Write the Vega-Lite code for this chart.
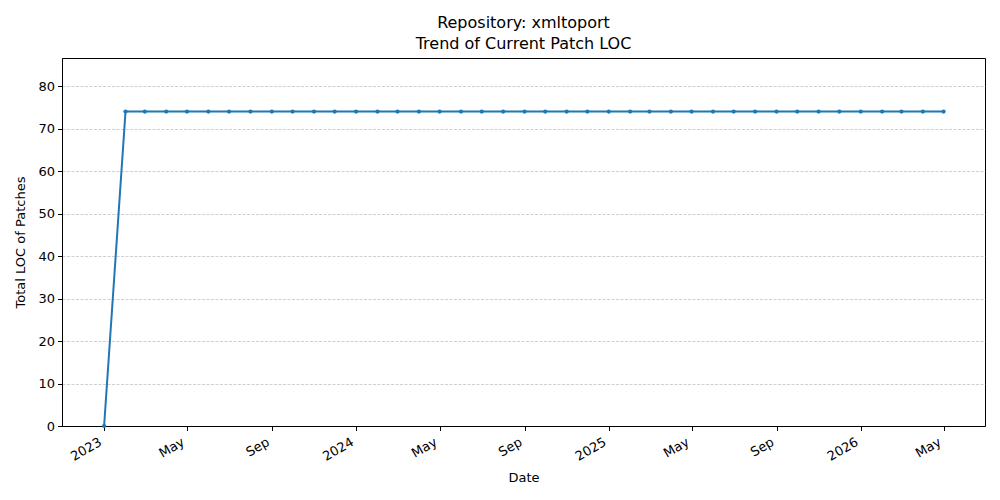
{
  "$schema": "https://vega.github.io/schema/vega-lite/v6.json",
  "width": 923,
  "height": 368,
  "autosize": {"type": "none"},
  "padding": {"left": 62, "top": 58, "right": 15, "bottom": 74},
  "background": "white",
  "title": {
    "text": ["Repository: xmltoport", "Trend of Current Patch LOC"],
    "fontSize": 16,
    "font": "DejaVu Sans",
    "fontWeight": "normal",
    "color": "black",
    "lineHeight": 21,
    "anchor": "middle",
    "offset": 6
  },
  "config": {
    "view": {"stroke": "black", "strokeWidth": 1},
    "axis": {
      "labelFont": "DejaVu Sans",
      "titleFont": "DejaVu Sans",
      "labelFontSize": 13,
      "titleFontSize": 13,
      "titleFontWeight": "normal",
      "labelColor": "black",
      "titleColor": "black",
      "domainColor": "black",
      "tickColor": "black",
      "tickSize": 4.5,
      "labelPadding": 3
    }
  },
  "data": {
    "values": [
      {"date": "2023-01-01", "loc": 0},
      {"date": "2023-02-01", "loc": 74},
      {"date": "2023-03-01", "loc": 74},
      {"date": "2023-04-01", "loc": 74},
      {"date": "2023-05-01", "loc": 74},
      {"date": "2023-06-01", "loc": 74},
      {"date": "2023-07-01", "loc": 74},
      {"date": "2023-08-01", "loc": 74},
      {"date": "2023-09-01", "loc": 74},
      {"date": "2023-10-01", "loc": 74},
      {"date": "2023-11-01", "loc": 74},
      {"date": "2023-12-01", "loc": 74},
      {"date": "2024-01-01", "loc": 74},
      {"date": "2024-02-01", "loc": 74},
      {"date": "2024-03-01", "loc": 74},
      {"date": "2024-04-01", "loc": 74},
      {"date": "2024-05-01", "loc": 74},
      {"date": "2024-06-01", "loc": 74},
      {"date": "2024-07-01", "loc": 74},
      {"date": "2024-08-01", "loc": 74},
      {"date": "2024-09-01", "loc": 74},
      {"date": "2024-10-01", "loc": 74},
      {"date": "2024-11-01", "loc": 74},
      {"date": "2024-12-01", "loc": 74},
      {"date": "2025-01-01", "loc": 74},
      {"date": "2025-02-01", "loc": 74},
      {"date": "2025-03-01", "loc": 74},
      {"date": "2025-04-01", "loc": 74},
      {"date": "2025-05-01", "loc": 74},
      {"date": "2025-06-01", "loc": 74},
      {"date": "2025-07-01", "loc": 74},
      {"date": "2025-08-01", "loc": 74},
      {"date": "2025-09-01", "loc": 74},
      {"date": "2025-10-01", "loc": 74},
      {"date": "2025-11-01", "loc": 74},
      {"date": "2025-12-01", "loc": 74},
      {"date": "2026-01-01", "loc": 74},
      {"date": "2026-02-01", "loc": 74},
      {"date": "2026-03-01", "loc": 74},
      {"date": "2026-04-01", "loc": 74},
      {"date": "2026-05-01", "loc": 74}
    ]
  },
  "encoding": {
    "x": {
      "field": "date",
      "type": "temporal",
      "title": "Date",
      "scale": {
        "type": "utc",
        "domain": [
          {"year": 2022, "month": 11, "date": 1, "utc": true},
          {"year": 2026, "month": 6, "date": 30, "utc": true}
        ]
      },
      "axis": {
        "grid": false,
        "values": [
          {"year": 2023, "month": 1, "date": 1, "utc": true},
          {"year": 2023, "month": 5, "date": 1, "utc": true},
          {"year": 2023, "month": 9, "date": 1, "utc": true},
          {"year": 2024, "month": 1, "date": 1, "utc": true},
          {"year": 2024, "month": 5, "date": 1, "utc": true},
          {"year": 2024, "month": 9, "date": 1, "utc": true},
          {"year": 2025, "month": 1, "date": 1, "utc": true},
          {"year": 2025, "month": 5, "date": 1, "utc": true},
          {"year": 2025, "month": 9, "date": 1, "utc": true},
          {"year": 2026, "month": 1, "date": 1, "utc": true},
          {"year": 2026, "month": 5, "date": 1, "utc": true}
        ],
        "labelExpr": "utcmonth(datum.value) == 0 ? utcFormat(datum.value, '%Y') : utcFormat(datum.value, '%b')",
        "labelAngle": -30,
        "labelAlign": "right",
        "labelBaseline": "top",
        "labelPadding": 5,
        "labelOffset": -7,
        "titlePadding": 8
      }
    },
    "y": {
      "field": "loc",
      "type": "quantitative",
      "title": "Total LOC of Patches",
      "scale": {"domain": [0, 86.6], "nice": false},
      "axis": {
        "values": [0, 10, 20, 30, 40, 50, 60, 70, 80],
        "grid": true,
        "gridColor": "#b0b0b0",
        "gridDash": [3, 1.5],
        "gridWidth": 0.6,
        "titlePadding": 10
      }
    }
  },
  "layer": [
    {"mark": {"type": "line", "color": "#1f77b4", "strokeWidth": 2}},
    {"mark": {"type": "point", "filled": true, "color": "#1f77b4", "size": 18, "opacity": 1}}
  ]
}
